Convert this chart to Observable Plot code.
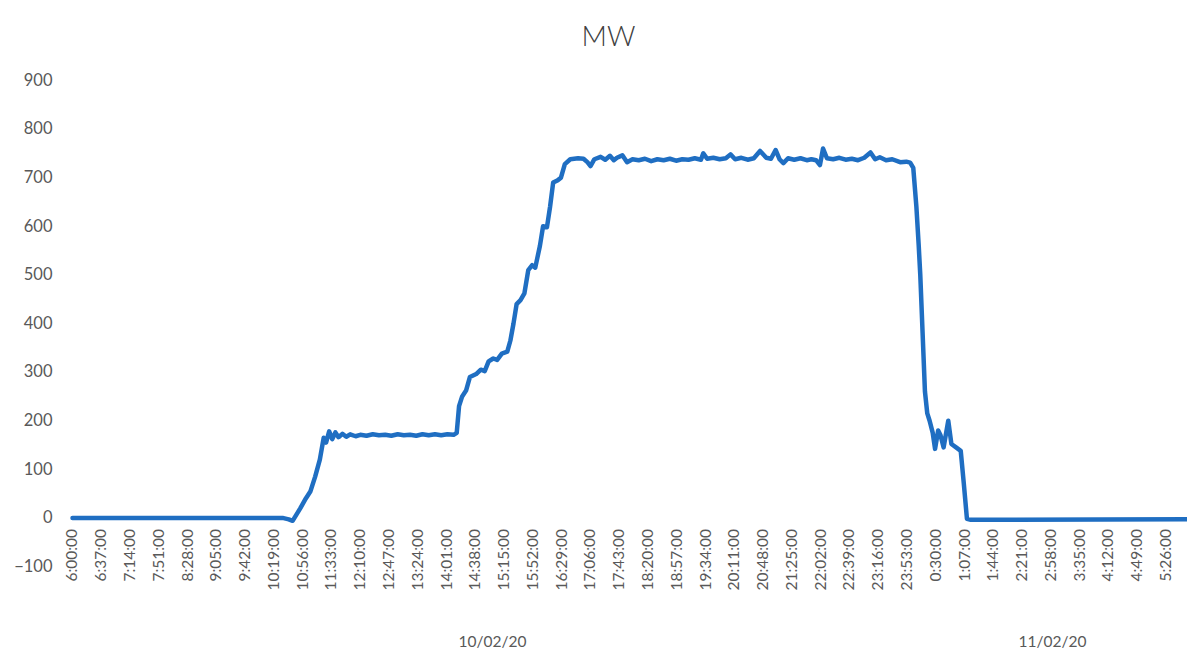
<!DOCTYPE html>
<html>
<head>
<meta charset="utf-8">
<script src="https://cdn.jsdelivr.net/npm/d3@7"></script>
<script src="https://cdn.jsdelivr.net/npm/@observablehq/plot@0.6"></script>
<style>
  html, body { margin: 0; padding: 0; background: #fff; }
  body { width: 1187px; height: 656px; overflow: hidden; font-family: Lato, "Open Sans", sans-serif; }
  #title { height: 60px; line-height: 70px; text-align: center; font-size: 28px; color: #404040; padding-left: 30px; font-weight: 300; }
</style>
</head>
<body>
<div id="title">MW</div>
<div id="chart"></div>
<script>
// ---- data ----
const times = [
  "6:00","10:30","10:38","10:43","10:53","11:00","11:06","11:12","11:18","11:23",
  "11:26","11:30","11:34","11:38","11:42","11:47","11:52","11:57","12:04","12:10",
  "12:18","12:26","12:34","12:42","12:50","12:58","13:06","13:14","13:22","13:30",
  "13:38","13:46","13:54","14:02","14:10","14:14","14:17","14:21","14:26","14:31",
  "14:39","14:45","14:50","14:55","15:01","15:06","15:12","15:19","15:23","15:27",
  "15:31","15:36","15:41","15:46","15:51","15:55","16:01","16:05","16:10","16:14",
  "16:18","16:24","16:28","16:33","16:40","16:50","16:57","17:02","17:06","17:11",
  "17:19","17:25","17:31","17:36","17:40","17:47","17:53","18:00","18:08","18:16",
  "18:24","18:32","18:40","18:48","18:56","19:04","19:12","19:20","19:28","19:31",
  "19:36","19:44","19:52","20:00","20:06","20:12","20:20","20:28","20:36","20:44",
  "20:52","20:58","21:04","21:09","21:14","21:20","21:28","21:36","21:44","21:50",
  "21:56","22:01","22:05","22:10","22:18","22:26","22:34","22:42","22:50","22:58",
  "23:06","23:12","23:18","23:26","23:34","23:44","23:52","23:57","0:01","0:05",
  "0:08","0:10","0:13","0:16","0:19","0:22","0:26","0:29","0:33","0:36",
  "0:40","0:46","0:50","0:56","1:02","1:06","1:10","1:15","5:59"
];
const mw = [
  0,0,-3,-6,20,40,55,85,120,165,
  155,178,162,176,166,173,167,172,168,171,
  169,172,170,171,169,172,170,171,169,172,
  170,172,170,172,171,175,230,250,262,290,
  296,305,302,322,328,325,338,342,365,400,
  440,448,462,510,520,515,560,600,598,640,
  690,695,700,728,738,740,739,732,724,738,
  743,737,745,736,741,746,732,738,736,739,
  734,738,736,739,735,738,737,740,737,750,
  739,741,738,740,748,738,741,737,740,755,
  741,739,757,738,730,740,737,740,736,738,
  736,726,760,740,738,741,737,739,736,741,
  752,738,742,736,738,732,733,731,720,640,
  560,500,380,260,215,200,175,142,180,170,
  145,200,152,145,138,70,-2,-4,-3
];
const tickLabels = [
  "6:00:00","6:37:00","7:14:00","7:51:00","8:28:00","9:05:00","9:42:00","10:19:00",
  "10:56:00","11:33:00","12:10:00","12:47:00","13:24:00","14:01:00","14:38:00","15:15:00",
  "15:52:00","16:29:00","17:06:00","17:43:00","18:20:00","18:57:00","19:34:00","20:11:00",
  "20:48:00","21:25:00","22:02:00","22:39:00","23:16:00","23:53:00","0:30:00","1:07:00",
  "1:44:00","2:21:00","2:58:00","3:35:00","4:12:00","4:49:00","5:26:00"
];
const yTicks = [-100, 0, 100, 200, 300, 400, 500, 600, 700, 800, 900];
const dateLabels = ["10/02/20", "11/02/20"];
const dateStarts = ["6:00", "0:00"];
const dateEnds = ["0:00", "6:00"];

// minutes after 6:00 on 10/02/20
function toMin(s, isEnd) {
  const p = s.split(":").map(Number);
  let m = p[0] * 60 + p[1] - 360;
  if (m < 0 || (isEnd && m === 0)) m += 1440;
  return m;
}

const data = times.map((t, i) => ({m: toMin(t), v: mw[i]}));
const ticks = tickLabels.map(t => ({m: toMin(t), label: t}));
const dates = dateLabels.map((d, i) => ({m: (toMin(dateStarts[i]) + toMin(dateEnds[i], true)) / 2, label: d}));

const grey = "#595959";
const chart = Plot.plot({
  width: 1187,
  height: 596,
  marginTop: 20,
  marginBottom: 90,
  marginLeft: 72,
  marginRight: 0,
  style: {fontFamily: "Lato, 'Open Sans', sans-serif", background: "#fff", overflow: "visible"},
  x: {domain: [0, 1440], range: [72, 1192], axis: null},
  y: {domain: [-100, 900], ticks: yTicks},
  marks: [
    Plot.axisY({ticks: yTicks, tickSize: 0, tickPadding: 20, fontSize: 16.5, color: grey, label: null}),
    Plot.line(data, {x: "m", y: "v", stroke: "#1F6EC2", strokeWidth: 4.5, strokeLinejoin: "round", strokeLinecap: "round"}),
    Plot.text(ticks, {x: "m", y: () => 0, text: "label", rotate: -90, textAnchor: "end", dy: 11, fontSize: 15.5, fill: grey}),
    Plot.text(dates, {x: "m", y: () => -100, text: "label", dy: 76, fontSize: 15.5, fill: grey})
  ]
});
document.getElementById("chart").appendChild(chart);
</script>
</body>
</html>
